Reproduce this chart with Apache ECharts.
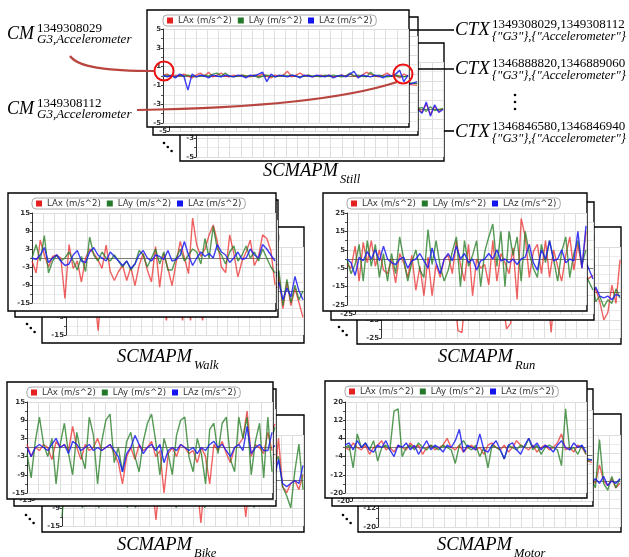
<!DOCTYPE html>
<html>
<head>
<meta charset="utf-8">
<script src="https://cdn.jsdelivr.net/npm/echarts@6/dist/echarts.min.js"></script>
<style>
  html, body { margin: 0; padding: 0; background: #fff; }
  #main { width: 629px; height: 557px; }
</style>
</head>
<body>
<div id="main"></div>
<script>
// legend names
const seriesNames = ['LAx (m/s^2)', 'LAy (m/s^2)', 'LAz (m/s^2)'];

// y tick labels for each activity
const stillTicks = [-5, -3, -1, 1, 3, 5];
const walkTicks = [-15, -9, -3, 3, 9, 15];
const runTicks = [-25, -15, -5, 5, 15, 25];
const bikeTicks = [-15, -9, -3, 3, 9, 15];
const motorTicks = [-20, -12, -4, 4, 12, 20];

// ---- Still ----
const stillLAx = [0.1,0.2,-0.1,0.1,0,0.2,0,-0.2,0.1,0.3, 0,0.4,-0.1,0.1,0.3,0,-0.1,0.1,0,0.1, 0,-0.1,0.1,0,0.2,0,-0.2,0.1,0,0.1, 0.5,-0.1,0.1,0.3,0,0.1,-0.1,0,0.1,0, 0.1,-0.1,0,0.1,0,0.2,0,-0.1,0.1,0.4, 0.2,0,-0.1,0.1,0.3,0,0.1,-0.2,0.2,0];
const stillLAy = [0,0.1,0,-0.1,0.1,0,0.1,0,-0.1,0, 0.1,0,0.2,0.3,0,0.3,0,-0.1,0,0.1, 0,0,0.1,-0.2,0,0.1,0,-0.1,0,0.1, 0,0.1,0,-0.1,0,0.1,0,0,-0.1,0.1, 0,0.1,0,-0.1,0,0.3,0,0.1,0,-0.1, 0.4,0,0.1,0,-0.1,0,0.1,0,-0.1,0];
const stillLAz = [0.1,-0.1,0.1,-0.2,0.2,0,-1.5,0.2,-0.1,0.1, 0,-0.2,0.1,0,-0.1,0.1,0,-0.1,0.1,0, -0.2,0.1,0,0.2,0.4,-0.6,0.2,-0.1,0.1,0, -0.1,0.1,0,-0.2,0.1,0,-0.1,0.1,0,-0.1, 0.1,-0.2,0,0.1,-0.1,0.2,0.5,-0.2,0.1,0, -0.1,0.1,0,-0.2,0.1,0,0.2,0.6,-0.6,0.1];
const stillMidLAx = [0,0.1,-0.1,0.2,0,-0.1,0.1,0,0.2,-0.1,0,0.1,-0.2,0.1,0,-0.2];
const stillMidLAy = [0,0.1,0,-0.1,0.1,0,0.1,-0.1,0,0.2,0,-0.1,0.1,0,0.1,0];
const stillMidLAz = [0.1,-0.2,0,0.1,-0.1,0.2,0,-0.3,0.1,0,-0.1,0.2,0,0.1,-0.4,0.2];
const stillBackLAx = [0,0.1,-0.1,0,0.2,0,-0.1,0.1,0,-0.2, 0.1,0,0.1,-0.1,0,0.2,-0.1,0,0.1,0, -0.1,0.1,0,0.2,-0.1,0,0.1,-0.1,0,0.1, 0,-0.2,0.1,0,0.1,-0.1,0,0.2,0,-0.1, 0.1,0,-0.1,0.1,0,0.2,-0.1,0,0.1,0, -0.1,0.1,0,0.2,-0.3,0.6,-0.5,0.3,-0.2,0.1];
const stillBackLAy = [0,0,0.1,0,-0.1,0,0.1,0,0,0.1, -0.1,0,0.1,0,0,-0.1,0.1,0,0,0.1, 0,-0.1,0,0.1,0,0,-0.1,0.1,0,0, 0.1,0,-0.1,0,0.1,0,0,0.1,-0.1,0, 0,0.1,0,-0.1,0,0.1,0,0,-0.1,0.1, 0,0,0.1,0.1,0.2,-0.2,0.3,-0.1,0,0.1];
const stillBackLAz = [0.1,-0.1,0,0.1,-0.1,0,0.2,-0.1,0,0.1, -0.2,0.1,0,-0.1,0.1,0,-0.1,0.2,0,-0.1, 0.1,0,-0.2,0.1,0,0.1,-0.1,0,0.1,-0.1, 0,0.2,-0.1,0,0.1,-0.1,0,0.1,-0.2,0, 0.1,-0.1,0,0.2,-0.1,0,0.1,-0.1,0,0.1, -0.1,0,0.1,0,-0.4,0.8,-0.7,0.5,-0.3,0];

// ---- Walk ----
const walkLAx = [-1,-5,6,1,-3,0.5,1,0,-13.5,4.5, -3.5,-1,-8,0,3,1.5,-0.5,-3.5,4.3,-4.5, -7.5,-4.5,-2.5,-7.5,-3,-9.2,-2.5,1.5,-4,-8, 3.8,-9.7,1.5,-3.5,-9.2,-1.5,5.5,0,-5.2,13.3, 4.3,0.5,3,7.7,11,5.5,-3,-4.9,7.7,1.5, -6.3,-1,2,6,-2.5,0.5,7.7,6.5,2.5,-9];
const walkLAy = [0,4.5,-1,7.5,-5,-1,1,-1,0,2, -1,-4,0.5,-4.5,7,1,-1,2,0,-1, 1,-1,-3,-1,-4,-2,2.5,1,-3,0, 3,-2,2,-4,-4,0,3,-1,1,3, 2,-2,6.5,0,10.5,3,1,-2,2,4, -1,1,4,0,2,-1,3,0,-3,-5];
const walkLAz = [0,-0.5,1,3.5,-1.5,0,1,-1,-2.5,-2, 1,2.5,-1,-1.5,2,3.5,1,0,-1,2, 0.5,-1,-2.5,-1,-3.5,-2,1,2.5,0,-1, 1,0.5,-0.5,2.5,-1,-0.5,1,5.5,1,-2.5, 0,2,0.5,1.5,0,4.5,2,1,-1.5,0, 2,-0.5,0,3,1,0,4.5,3,1,-1];
const walkMidLAx = [1,-4,3,-6,2,-3,5,-8,1,4,-5,2,6,-3,4,-8];
const walkMidLAy = [0,3,-2,5,-1,2,-4,3,0,6,-2,4,1,-1,3,-4];
const walkMidLAz = [0,1,-1,2,0,-2,1,0,2,-1,1,3,0,1,2,-3];
const walkBackLAx = [0,-3,4,-2,1,-5,2,0,-13.5,3, -4,1,-6,2,0,-3,4,-5,1,-2, 3,-6,0,2,-4,-10,1,-3,2,-10, 0,-10,3,-2,-10,1,-4,2,-6,5, -3,0,4,-5,2,-1,6,-4,0,3, -6,2,-2,5,-6,3,-5,1,-4,-9];
const walkBackLAy = [0,2,-1,3,-2,1,0,-3,2,-1, 1,-2,3,0,-1,2,-3,1,0,-2, 2,-1,3,-2,0,1,-3,2,-1,0, 3,-2,1,-1,2,0,-3,1,2,-2, 0,3,-1,1,-2,4,-3,0,2,-1, 3,-2,1,7,-5,4,-4,2,-3,0];
const walkBackLAz = [0,1,-1,0,1,-1,2,0,-1,1, 0,-2,1,0,1,-1,0,2,-1,0, 1,-2,0,1,-1,2,0,-1,1,0, -1,2,0,-2,1,0,1,-1,0,2, -1,0,1,-2,1,0,2,-1,0,1, -1,2,0,3,-3,1,-2,5,0,-3];

// ---- Run ----
const runLAx = [-3,-5,7,-12,9,-2,10,-4,5,-6, -8,0,-13,3,-2,-10,2,-17,-4,-20, 1,-20,-3,-10,0,2,-8,10,-3,-12, 8,-20,0,-5,-3,-14,10,-12,3,-2, -8,6,-22,22,12,-10,4,8,-8,10, -10,5,-4,-12,2,12,-6,8,-5,15];
const runLAy = [0,-8,-3,8,-12,10,-4,8,-10,3, -12,3,-8,12,0,-12,-2,5,-6,-10, 16,-3,10,-4,-12,-6,4,12,-15,10, -4,2,10,-15,4,12,19,-4,15,-15, 15,2,12,-12,15,3,-5,-10,8,-2, 10,0,-12,4,12,-10,3,10,-3,5];
const runLAz = [0,-2,-9,1,-1,4,0,5,-1,7, 0,-2,-3,0,1,-5,-1,0,3,-1, -5,6,-2,-8,0,3,-1,7,0,3, -2,0,-6,-1,0,3,0,5,-1,0, -2,0,-3,0,1,8,-2,-6,5,0, 10,-1,0,5,-2,0,-1,15,-5,18];
const runMidLAx = [-5,8,-12,6,-10,12,-4,9,-15,10,-6,14,-8,5,-10,-4];
const runMidLAy = [4,-10,12,-8,10,-12,15,-6,8,-14,12,-5,10,-8,6,-12];
const runMidLAz = [0,-3,5,-2,3,-4,2,6,-3,1,-2,4,0,8,15,-6];
const runBackLAx = [2,-5,8,-10,4,-8,10,-3,5,-12, 6,-4,8,-10,3,-6,9,-8,2,-21, -22,4,-6,8,-3,5,-10,6,-8,2, -4,-20,-17,5,-8,7,-3,4,-9,6, -2,3,-22,5,-8,6,-4,9,-10,3, -6,8,-4,2,-5,-15,-11,4,-6,18];
const runBackLAy = [0,5,-8,10,-6,8,-10,4,-5,9, -7,6,-4,8,-9,5,-3,7,-10,4, -6,8,-5,10,-8,3,-6,9,-4,7, -10,5,-3,6,-8,4,-5,-15,6,-4, 8,-7,5,-9,3,-6,10,-5,4,-8, 6,-3,9,-5,-2,-8,-4,-6,2,-3];
const runBackLAz = [0,-2,3,-1,2,-3,1,0,4,-2, 1,-1,2,-3,0,3,-2,1,-1,0, 2,-3,1,0,-2,4,-1,2,-3,1, 0,-2,3,-1,1,-2,0,2,-1,3, -2,0,1,-3,2,-1,0,4,-2,1, -3,2,-2,3,-2,-3,-2,-4,-1,-2];

// ---- Bike ----
const bikeLAx = [1,-3,0,-1,1,0,-4,2,0,1, -1,7,0,-4,1,-1,0,3,-1,0, 1,-2,-5,-12,-3,0,-4,1,-1,0, 2,-3,-1,-15,-2,0,-3,1,0,-2, -1,-5,0,-3,-12,1,-1,2,-2,-5, 0,1,3,12,-3,1,0,-2,5,-1];
const bikeLAy = [-2,-10,2,10,1,-3,3,-12,1,8, -2,-9,5,-2,-7,10,4,-12,2,9, 11,-5,0,-8,2,5,-3,-8,2,8, 11,2,-9,3,-2,-9,4,9,10,-3, -8,3,-2,-12,6,8,-2,8,10,-4, -8,10,3,10,-9,2,8,-10,10,-8];
const bikeLAz = [0,-3,0,1,0,-1,1,3,0,1, -2,2,1,-1,0,1,-1,0,-1,0, 1,-1,-3,-8,-2,0,4,1,-2,0, 1,-1,1,-5,-1,0,-1,1,0,-1, 0,-2,0,-1,1,2,0,1,-1,-3, 0,1,-1,7,-2,0,1,-1,-1,5];
const bikeMidLAx = [0,-2,3,-4,1,-10,2,-3,0,-12,4,1,-2,3,-1,10];
const bikeMidLAy = [-8,9,-6,10,-9,5,-10,8,-4,11,-9,7,-6,10,-8,9];
const bikeMidLAz = [0,-1,2,-3,0,-6,1,0,-2,1,0,3,-1,0,-2,3];
const bikeBackLAx = [1,-2,0,3,-1,2,0,-3,1,0, 2,-1,0,1,-2,3,0,-1,2,0, -3,1,0,-13,1,-2,0,3,-1,2, 0,-2,1,0,-14,1,-1,2,0,-3, 1,0,2,-1,0,-12,1,-2,0,3, -1,2,0,14,-2,-4,-1,0,-3,2];
const bikeBackLAy = [-12,5,-3,8,-2,-9,6,-4,7,-9, 3,8,-5,6,-3,9,-9,4,-9,7, -4,8,-5,3,6,-3,9,-6,-9,5, -4,8,-6,3,-5,-9,7,-3,9,-5, 4,-6,8,-4,6,-3,9,-9,5,-4, 7,-3,6,8,-2,-5,-9,3,12,-3];
const bikeBackLAz = [0,-1,1,0,2,-1,0,1,-2,0, 1,-1,0,2,-1,0,1,-1,0,-2, 1,0,-1,-3,0,1,-1,2,0,-1, 1,0,-2,1,-4,0,1,-1,0,2, -1,0,1,-2,0,-1,1,0,-1,2, 0,-1,1,7,-1,-2,-1,0,-1,5];

// ---- Motor ----
const motorLAx = [0,-1,2,0,-1,1,-3,0,1,3, -1,0,-2,1,0,-1,2,0,1,-3, 0,1,-1,0,1,4,0,-1,1,-2, 0,1,-1,0,-3,1,2,0,-1,1, -2,0,3,1,0,-1,1,-2,0,1, -1,0,2,6,-1,0,-2,1,0,-3];
const motorLAy = [0,1,-9,6,0,2,-1,3,-6,0, 1,-1,16,17,-4,0,1,-1,2,0, -1,1,0,-1,1,0,-1,-7,1,3, 0,-1,1,-4,0,-9,1,0,-1,-5, 1,0,-1,1,0,4,-1,1,-3,0, 1,0,-1,-8,17,-1,0,-3,1,-3];
const motorLAz = [1,2,-1,3,0,2,-1,-2,1,0, 3,-1,-4,1,0,2,-1,1,-3,0, 3,-1,1,0,-2,1,0,3,8,-2, 1,0,-1,6,-1,-2,1,3,-1,-5, 1,2,-1,-3,1,4,0,2,-1,1, 0,-2,1,3,0,-1,2,0,1,-2];
const motorMidLAx = [0,1,-2,1,0,3,-1,0,-2,1,0,2,-1,4,-1,-3];
const motorMidLAy = [1,-6,2,15,-2,0,-5,1,3,-7,0,1,-2,15,-3,-2];
const motorMidLAz = [0,2,-1,1,-3,2,0,6,-1,0,2,-2,1,3,0,-2];
const motorBackLAx = [0,1,-1,2,0,-2,1,0,-1,2, -1,0,1,-2,0,1,-1,2,0,-1, 1,0,-2,1,0,-1,2,0,-1,1, 0,2,-1,0,-2,1,0,1,-1,0, 2,-1,0,1,-2,0,1,-1,0,2, -1,0,1,-1,7,0,-2,1,-3,-1];
const motorBackLAy = [0,-1,1,0,2,-1,0,1,-2,0, 1,-1,0,2,-1,0,1,-1,0,-2, 1,0,-1,1,0,2,-1,0,1,-1, 0,-2,1,0,-1,2,0,-1,1,0, -2,1,0,-1,2,0,1,-1,0,1, -2,0,1,-3,18,-1,-4,2,-3,1];
const motorBackLAz = [1,-1,0,2,-1,1,0,-2,1,0, -1,2,0,-1,1,0,-2,1,0,1, -1,0,2,-1,0,1,-1,0,-2,1, 0,1,-1,2,0,-1,1,0,-1,2, -1,0,1,-2,1,0,-1,1,0,-1, 2,0,-1,1,-1,2,-2,0,-1,1];

// context annotations
const cmLabels = [['1349308029', 'G3,Accelerometer'], ['1349308112', 'G3,Accelerometer']];
const ctxLabels = [
  ['1349308029,1349308112', '{"G3"},{"Accelerometer"}'],
  ['1346888820,1346889060', '{"G3"},{"Accelerometer"}'],
  ['1346846580,1346846940', '{"G3"},{"Accelerometer"}']
];

const lineColors = ['rgba(234,38,38,0.72)', 'rgba(38,125,38,0.78)', 'rgba(28,28,242,0.85)'];
const iconColors = ['#e42020', '#24782a', '#1414ee'];
const serif = '"Liberation Serif", "Times New Roman", serif';

// card boxes [x1, y1, x2, y2], pads [left, top, bottom]
const panels = [
  { label: 'Still', ticks: stillTicks, pad: [16, 19, 4],
    front: [147, 10, 409, 127], mid: [153, 17, 418, 135], back: [180, 43, 444, 161],
    frontData: [stillLAx, stillLAy, stillLAz], midData: [stillMidLAx, stillMidLAy, stillMidLAz],
    backData: [stillBackLAx, stillBackLAy, stillBackLAz], title: [263, 177], dots: [164, 143] },
  { label: 'Walk', ticks: walkTicks, pad: [24, 20, 8],
    front: [8, 193, 276, 311], mid: [15, 200, 278, 317], back: [42, 227, 304, 343],
    frontData: [walkLAx, walkLAy, walkLAz], midData: [walkMidLAx, walkMidLAy, walkMidLAz],
    backData: [walkBackLAx, walkBackLAy, walkBackLAz], title: [117, 363], dots: [27, 324] },
  { label: 'Run', ticks: runTicks, pad: [24, 20, 6],
    front: [323, 193, 587, 311], mid: [331, 202, 594, 320], back: [357, 227, 621, 344],
    frontData: [runLAx, runLAy, runLAz], midData: [runMidLAx, runMidLAy, runMidLAz],
    backData: [runBackLAx, runBackLAy, runBackLAz], title: [438, 363], dots: [339, 327] },
  { label: 'Bike', ticks: bikeTicks, pad: [20, 20, 6],
    front: [7, 382, 273, 499], mid: [14, 389, 276, 506], back: [42, 415, 304, 532],
    frontData: [bikeLAx, bikeLAy, bikeLAz], midData: [bikeMidLAx, bikeMidLAy, bikeMidLAz],
    backData: [bikeBackLAx, bikeBackLAy, bikeBackLAz], title: [117, 551], dots: [26, 515] },
  { label: 'Motor', ticks: motorTicks, pad: [20, 21, 5],
    front: [325, 381, 587, 498], mid: [332, 389, 593, 506], back: [358, 414, 621, 532],
    frontData: [motorLAx, motorLAy, motorLAz], midData: [motorMidLAx, motorMidLAy, motorMidLAz],
    backData: [motorBackLAx, motorBackLAy, motorBackLAz], title: [437, 551], dots: [343, 515] }
];

const option = {
  backgroundColor: '#fff',
  animation: false,
  grid: [], xAxis: [], yAxis: [], series: [], legend: [],
  graphic: { elements: [] }
};
const elements = option.graphic.elements;

function text(str, x, baseline, size, style) {
  return {
    type: 'text', zlevel: 3, z: 10, x: x, y: baseline - 0.337 * size,
    style: { text: str, fontSize: size, fontFamily: serif, fontStyle: style || 'normal',
             fill: '#000', align: 'left', verticalAlign: 'middle' }
  };
}

function addCard(box, pad, ticks, values, zlevel) {
  const [x1, y1, x2, y2] = box;
  const gi = option.grid.length;
  const n = values[0].length;
  elements.push({
    type: 'rect', zlevel: zlevel, z: -10,
    shape: { x: x1, y: y1, width: x2 - x1, height: y2 - y1 },
    style: { fill: '#fff', stroke: '#000', lineWidth: 1.4 }
  });
  option.grid.push({
    zlevel: zlevel, left: x1 + pad[0], top: y1 + pad[1],
    width: x2 - 1 - (x1 + pad[0]), height: y2 - pad[2] - (y1 + pad[1])
  });
  option.xAxis.push({
    type: 'value', gridIndex: gi, zlevel: zlevel, min: 0, max: n - 1, interval: (n - 1) / 22,
    axisLabel: { show: false }, axisTick: { show: false },
    axisLine: { show: true, onZero: true, lineStyle: { color: '#7d7d7d', width: 1 } },
    splitLine: { show: true, lineStyle: { color: '#dedede', width: 1 } }
  });
  option.yAxis.push({
    type: 'value', gridIndex: gi, zlevel: zlevel,
    min: ticks[0], max: ticks[ticks.length - 1], interval: ticks[1] - ticks[0],
    axisLine: { show: true, lineStyle: { color: '#333', width: 1 } },
    axisTick: { show: true, length: 2, lineStyle: { color: '#333' } },
    minorTick: { show: true, splitNumber: 2, length: 2, lineStyle: { color: '#555' } },
    axisLabel: { fontSize: 7, fontWeight: 'bold', color: '#333', margin: 2, fontFamily: 'DejaVu Sans' },
    splitLine: { show: true, lineStyle: { color: '#dedede', width: 1 } },
    minorSplitLine: { show: true, lineStyle: { color: '#ebebeb', width: 1 } }
  });
  values.forEach((vals, k) => {
    option.series.push({
      type: 'line', name: seriesNames[k], xAxisIndex: gi, yAxisIndex: gi,
      zlevel: zlevel, z: 2 + k, symbol: 'none', showSymbol: false,
      data: vals.map((v, i) => [i, v]),
      lineStyle: { width: 1.4, color: lineColors[k] },
      itemStyle: { color: iconColors[k] }
    });
  });
  option.legend.push({
    zlevel: zlevel, z: 6, left: x1 + pad[0], top: y1 + 5,
    selectedMode: false, orient: 'horizontal',
    data: seriesNames.map((name, k) => ({ name: name, itemStyle: { color: iconColors[k] } })),
    icon: 'rect', itemWidth: 6, itemHeight: 6, itemGap: 6,
    textStyle: { fontSize: 8.6, color: '#333', fontFamily: 'DejaVu Sans', lineHeight: 9 },
    backgroundColor: '#fff', borderColor: '#aaaaaa', borderWidth: 1, borderRadius: 4,
    padding: [1, 4]
  });
}

panels.forEach(p => {
  addCard(p.back, p.pad, p.ticks, p.backData, 0);
  addCard(p.mid, p.pad, p.ticks, p.midData, 1);
  addCard(p.front, p.pad, p.ticks, p.frontData, 2);
  elements.push(text('SCMAPM', p.title[0], p.title[1], 18.5, 'italic'));
  elements.push(text(p.label, p.title[0] + 77, p.title[1] + 7, 12.5, 'italic'));
  for (let k = 0; k < 3; k++) {
    elements.push({ type: 'circle', zlevel: 3, shape: { cx: p.dots[0] + k * 3.8, cy: p.dots[1] + k * 4, r: 1.3 },
                    style: { fill: '#000' } });
  }
});

// CM labels on the left
[[40, 0], [115, 1]].forEach(([base, k]) => {
  elements.push(text('CM', 7, base, 18, 'italic'));
  elements.push(text(cmLabels[k][0], 37, base - 7.5, 13, 'normal'));
  elements.push(text(cmLabels[k][1], 37, base + 4, 13, 'italic'));
});

// CTX labels on the right
[36, 75, 138].forEach((base, k) => {
  elements.push(text('CTX', 455, base, 19, 'italic'));
  elements.push(text(ctxLabels[k][0], 492, base - 7.5, 13, 'normal'));
  elements.push(text(ctxLabels[k][1], 492, base + 4.5, 12.7, 'italic'));
});

// connectors from cards to CTX labels
[[409, 30], [418, 69], [444, 131]].forEach(([x, y]) => {
  elements.push({ type: 'line', zlevel: 3, shape: { x1: x, y1: y, x2: 454, y2: y },
                  style: { stroke: '#000', lineWidth: 1.6 } });
});
[95, 102, 109].forEach(y => {
  elements.push({ type: 'circle', zlevel: 3, shape: { cx: 515, cy: y, r: 1.3 }, style: { fill: '#000' } });
});

// red markers and curved pointers
elements.push({ type: 'bezierCurve', zlevel: 3,
  shape: { x1: 70, y1: 56, cpx1: 78, cpy1: 67, cpx2: 105, cpy2: 71, x2: 155, y2: 71 },
  style: { stroke: '#b8453f', lineWidth: 2.2, fill: null } });
elements.push({ type: 'bezierCurve', zlevel: 3,
  shape: { x1: 137, y1: 110, cpx1: 260, cpy1: 108, cpx2: 345, cpy2: 99, x2: 397, y2: 82 },
  style: { stroke: '#b8453f', lineWidth: 2.2, fill: null } });
[[164, 71], [403, 74]].forEach(([cx, cy]) => {
  elements.push({ type: 'circle', zlevel: 3, shape: { cx: cx, cy: cy, r: 9.5 },
                  style: { fill: null, stroke: '#ee1111', lineWidth: 2 } });
});

const chart = echarts.init(document.getElementById('main'), null, { renderer: 'canvas' });
chart.setOption(option);
</script>
</body>
</html>
